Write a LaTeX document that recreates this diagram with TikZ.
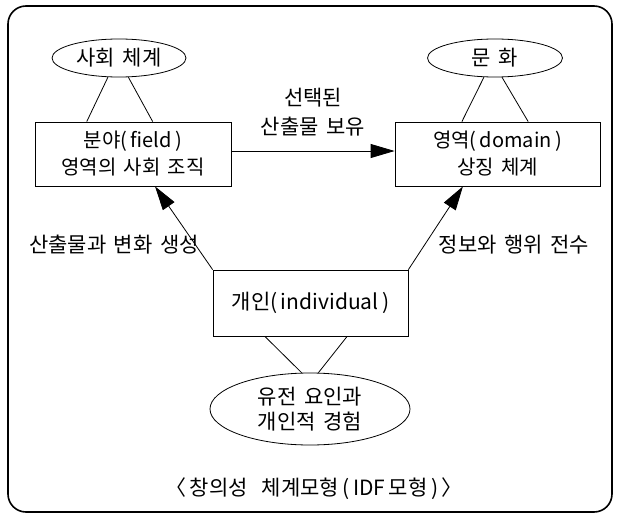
\documentclass[tikz,border=0pt]{standalone}
\usepackage{fontspec}
\setmainfont{Noto Sans CJK KR}[WordSpace=1.6]
\usetikzlibrary{shapes.geometric,arrows.meta,calc}
\begin{document}
\begin{tikzpicture}[x=1pt,y=-1pt,
  txt/.style={font=\fontsize{21}{29}\selectfont, align=center, inner sep=0pt},
  oval/.style={draw, ellipse, line width=0.8pt, inner sep=0pt, font=\fontsize{21}{25}\selectfont, align=center},
  boxn/.style={draw, rectangle, line width=0.8pt, inner sep=0pt, font=\fontsize{20}{27}\selectfont, align=center},
  link/.style={line width=0.8pt},
  arr/.style={line width=0.8pt, -{Stealth[length=24pt,width=14pt,inset=0pt]}}]
\useasboundingbox (0,0) rectangle (617,519);
\draw[line width=1.6pt, rounded corners=18pt] (8,6) rectangle (612,512);
% ellipses
\node[oval, minimum width=134pt, minimum height=38pt] (soc) at (119,58) {사회 체계};
\node[oval, minimum width=135pt, minimum height=38pt] (cul) at (495,58) {문 화};
\node[oval, minimum width=200pt, minimum height=72pt] (gen) at (310,409) {유전 요인과\\개인적 경험};
% boxes
\node[boxn, minimum width=196pt, minimum height=64pt] (fld) at (133,154) {분야(\,field\,)\\영역의 사회 조직};
\node[boxn, minimum width=205pt, minimum height=64pt] (dom) at (497.5,154) {영역(\,domain\,)\\상징 체계};
\node[boxn, minimum width=195pt, minimum height=66pt, font=\fontsize{21}{27}\selectfont] (ind) at (310.5,303) {개인(\,individual\,)};
% links
\draw[link] (soc.240) -- ($(fld.north west)!0.265!(fld.north east)$);
\draw[link] (soc.296) -- ($(fld.north west)!0.60!(fld.north east)$);
\draw[link] (cul.240) -- ($(dom.north west)!0.327!(dom.north east)$);
\draw[link] (cul.290) -- ($(dom.north west)!0.649!(dom.north east)$);
\draw[link] (gen.103) -- ($(ind.south west)!0.267!(ind.south east)$);
\draw[link] (gen.77) -- ($(ind.south west)!0.687!(ind.south east)$);
% arrows
\draw[arr] ($(fld.east)+(0,-3)$) -- ($(dom.west)+(0,-3)$);
\draw[arr] (ind.north west) -- ($(fld.south west)!0.612!(fld.south east)$);
\draw[arr] (ind.north east) -- ($(dom.south west)!0.332!(dom.south east)$);
% labels
\node[txt] (lsel) at (313,112) {선택된\\산출물 보유};
\node[txt] (lprod) at (114,245) {산출물과 변화 생성};
\node[txt] (linfo) at (514,245) {정보와 행위 전수};
\node[txt] (cap) at (314,489) {〈\,창의성\hspace{14pt}체계모형\,(\,IDF\,모형\,)\,〉};
\end{tikzpicture}
\end{document}
